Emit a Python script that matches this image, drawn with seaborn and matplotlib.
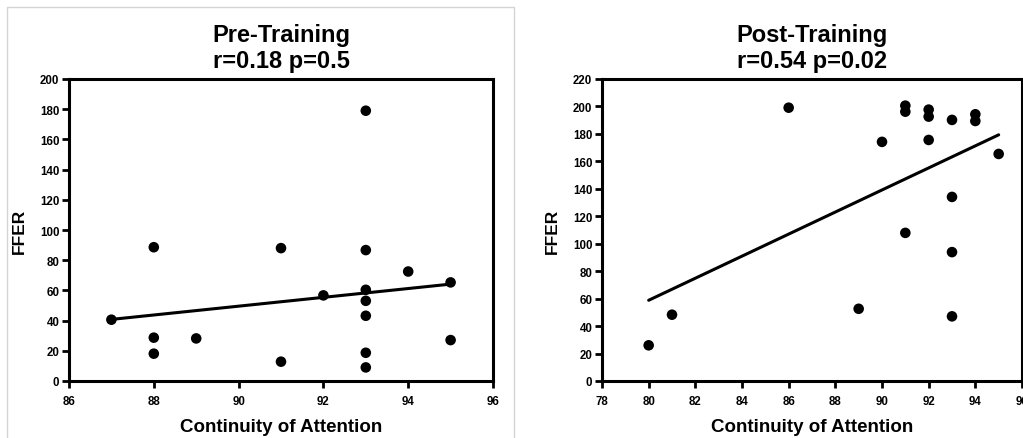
import numpy as np
import pandas as pd
import matplotlib
matplotlib.use("Agg")
import matplotlib.pyplot as plt
import seaborn as sns
from matplotlib.patches import Rectangle

# ---- data ----
pre_attention = [87, 88, 88, 88, 89, 91, 91, 92, 93, 93, 93, 93, 93, 93, 93, 94, 95, 95]
pre_ffer = [40.6, 88.6, 28.7, 18.1, 28.2, 88.0, 12.8, 56.7, 179.0, 86.7, 60.4, 53.1, 43.2, 18.7, 9.0, 72.5, 65.3, 27.1]

post_attention = [80, 81, 86, 89, 90, 91, 91, 91, 92, 92, 92, 93, 93, 93, 93, 94, 94, 95]
post_ffer = [26.0, 48.3, 199.1, 52.6, 174.2, 200.6, 196.2, 107.9, 197.7, 192.6, 175.6, 190.2, 134.1, 93.9, 47.1, 194.3, 189.4, 165.4]

titles = ["Pre-Training\nr=0.18 p=0.5", "Post-Training\nr=0.54 p=0.02"]
x_label = "Continuity of Attention"
y_label = "FFER"
pre_xticks = [86, 88, 90, 92, 94, 96]
pre_yticks = [0, 20, 40, 60, 80, 100, 120, 140, 160, 180, 200]
post_xticks = [78, 80, 82, 84, 86, 88, 90, 92, 94, 96]
post_yticks = [0, 20, 40, 60, 80, 100, 120, 140, 160, 180, 200, 220]

sns.set_style("white")
plt.rcParams['font.family'] = ['Liberation Sans', 'DejaVu Sans']
plt.rcParams['font.weight'] = 'bold'
plt.rcParams['text.color'] = 'black'
plt.rcParams['axes.labelcolor'] = 'black'
plt.rcParams['xtick.color'] = 'black'
plt.rcParams['ytick.color'] = 'black'

W, H = 1023, 439
fig = plt.figure(figsize=(W / 100, H / 100), dpi=100)

def px_axes(x0, y0, x1, y1):
    return fig.add_axes([x0 / W, 1 - y1 / H, (x1 - x0) / W, (y1 - y0) / H])

ax1 = px_axes(69, 80, 493, 382)
ax2 = px_axes(602, 80, 1022, 382)

# light gray frame around left panel
fig.patches.append(Rectangle((7 / W, -0.05), (514 - 7) / W, 1 - 8 / H + 0.05,
                             transform=fig.transFigure, fill=False,
                             edgecolor="#d4d4d4", linewidth=1.0, zorder=0))

panels = [
    (ax1, pre_attention, pre_ffer, titles[0], pre_xticks, pre_yticks, (86, 96), (0, 200)),
    (ax2, post_attention, post_ffer, titles[1], post_xticks, post_yticks, (78, 96), (0, 220)),
]

for ax, xs, ys, title, xt, yt, xl, yl in panels:
    df = pd.DataFrame({"x": xs, "y": ys})
    sns.regplot(data=df, x="x", y="y", ax=ax, ci=None, truncate=True,
                scatter_kws=dict(s=58, color="black", edgecolor="none", alpha=1.0,
                                 zorder=3, clip_on=False),
                line_kws=dict(color="black", linewidth=2.2, zorder=2))
    ax.set_xlim(*xl)
    ax.set_ylim(*yl)
    ax.set_xticks(xt)
    ax.set_yticks(yt)
    ax.set_xticklabels([str(v) for v in xt], fontsize=8.3, fontweight='bold')
    ax.set_yticklabels([str(v) for v in yt], fontsize=8.3, fontweight='bold')
    ax.tick_params(axis='both', direction='out', length=5, width=2, color='black',
                   labelcolor='black', bottom=True, left=True, top=False, right=False)
    ax.tick_params(axis='x', pad=5)
    ax.tick_params(axis='y', pad=2)
    for sp in ax.spines.values():
        sp.set_visible(True)
        sp.set_color('black')
        sp.set_linewidth(2.2)
    ax.set_xlabel(x_label, fontsize=13.5, fontweight='bold', labelpad=8, color='black')
    ax.set_ylabel(y_label, fontsize=12.5, fontweight='bold', labelpad=9, color='black')
    ax.set_title(title, fontsize=17, fontweight='bold', pad=8.5, linespacing=1.15, color='black')

fig.savefig("out.png", dpi=100)
